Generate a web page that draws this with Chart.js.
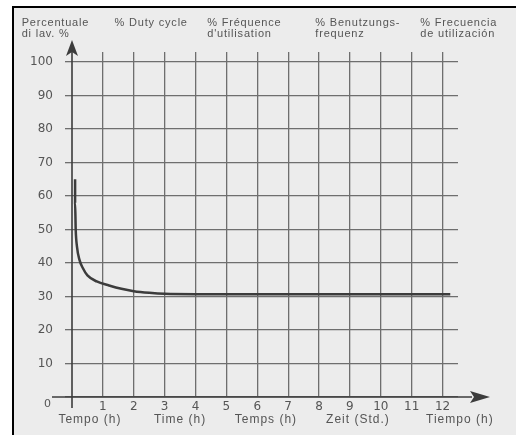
<!DOCTYPE html>
<html>
<head>
<meta charset="utf-8">
<script src="https://cdn.jsdelivr.net/npm/chart.js@4"></script>
<style>
  html, body { margin: 0; padding: 0; background: #fff; }
  #wrap { width: 516px; height: 435px; position: relative; }
</style>
</head>
<body>
<div id="wrap"><canvas id="dutyChart" width="516" height="435"></canvas></div>
<script>
// duty cycle curve (hours, percent)
const hours = [0.1, 0.1, 0.12, 0.16, 0.24, 0.35, 0.5, 0.8, 1.2, 1.6, 2.0, 2.5, 3, 4, 6, 8, 10, 12.25];
const dutyPct = [65, 58, 50, 45, 41, 38.5, 36.3, 34.5, 33.3, 32.3, 31.6, 31.1, 30.8, 30.7, 30.7, 30.7, 30.7, 30.7];

const yTicks = [0, 10, 20, 30, 40, 50, 60, 70, 80, 90, 100];
const xTicks = [1, 2, 3, 4, 5, 6, 7, 8, 9, 10, 11, 12];

// header labels (5 languages) and their x position in hours
const headerLines = [
  ["Percentuale", "di lav. %"],
  ["% Duty cycle"],
  ["% Fréquence", "d'utilisation"],
  ["% Benutzungs-", "frequenz"],
  ["% Frecuencia", "de utilización"]
];
const headerAt = [-1.63, 1.38, 4.38, 7.88, 11.28];

const timeTitles = ["Tempo (h)", "Time (h)", "Temps (h)", "Zeit (Std.)", "Tiempo (h)"];
const timeTitleAt = [0.58, 3.5, 6.28, 9.26, 12.56];

const ink = "#3c3c3c";
const gridCol = "#6e6e6e";
const labelCol = "#555";
const sans = "'Liberation Sans', Arial, sans-serif";
const tickFont = { family: "'DejaVu Sans', sans-serif", size: 12 };

const paperAndArrows = {
  id: "paperAndArrows",
  beforeDraw(chart) {
    const c = chart.ctx;
    c.save();
    c.fillStyle = "#ececec";
    c.fillRect(12, 6, chart.width - 12, chart.height - 6);
    c.strokeStyle = "#000";
    c.lineWidth = 2;
    c.beginPath();
    c.moveTo(13, chart.height);
    c.lineTo(13, 7);
    c.lineTo(chart.width, 7);
    c.stroke();
    c.restore();
  },
  afterDraw(chart) {
    const c = chart.ctx;
    const xs = chart.scales.x, ys = chart.scales.y;
    const x0 = xs.getPixelForValue(0), y0 = ys.getPixelForValue(0);
    c.save();
    c.strokeStyle = ink;
    c.fillStyle = ink;
    c.lineWidth = 1.6;
    // x axis
    c.beginPath();
    c.moveTo(x0 - 20, y0);
    c.lineTo(x0 + 400, y0);
    c.stroke();
    c.beginPath();
    c.moveTo(x0 + 418, y0);
    c.lineTo(x0 + 398, y0 - 6);
    c.lineTo(x0 + 402, y0);
    c.lineTo(x0 + 398, y0 + 6);
    c.closePath();
    c.fill();
    // y axis
    c.beginPath();
    c.moveTo(x0, y0 + 11);
    c.lineTo(x0, 50);
    c.stroke();
    c.beginPath();
    c.moveTo(x0, 40);
    c.lineTo(x0 - 6, 56);
    c.lineTo(x0, 52);
    c.lineTo(x0 + 6, 56);
    c.closePath();
    c.fill();

    c.fillStyle = labelCol;
    c.textBaseline = "middle";
    // origin label
    c.font = "11px 'DejaVu Sans', sans-serif";
    c.textAlign = "right";
    c.fillText("0", x0 - 21, y0 + 7);

    // header texts
    c.font = "11px " + sans;
    c.letterSpacing = "0.8px";
    c.textAlign = "left";
    headerLines.forEach((lines, i) => {
      const hx = xs.getPixelForValue(headerAt[i]);
      lines.forEach((t, j) => c.fillText(t, hx, 23 + j * 10.5));
    });
    // time titles
    c.font = "12px " + sans;
    c.letterSpacing = "1px";
    c.textAlign = "center";
    timeTitles.forEach((t, i) => {
      c.fillText(t, xs.getPixelForValue(timeTitleAt[i]), 420);
    });
    c.restore();
  }
};

new Chart(document.getElementById("dutyChart"), {
  type: "line",
  data: {
    datasets: [{
      data: hours.map((h, i) => ({ x: h, y: dutyPct[i] })),
      borderColor: ink,
      borderWidth: 2.5,
      pointRadius: 0,
      tension: 0.4,
      cubicInterpolationMode: "monotone",
      fill: false
    }]
  },
  options: {
    responsive: false,
    animation: false,
    layout: { padding: { left: 12, top: 52, right: 58, bottom: 0 } },
    plugins: { legend: { display: false }, tooltip: { enabled: false } },
    scales: {
      x: {
        type: "linear",
        min: 0,
        max: 12.5,
        afterFit: s => { s.height = 38; },
        afterBuildTicks: s => { s.ticks = xTicks.map(v => ({ value: v })); },
        border: { display: false },
        grid: { color: gridCol, lineWidth: 1.3, drawTicks: false },
        ticks: { color: labelCol, padding: 3, font: tickFont }
      },
      y: {
        min: 0,
        max: 103,
        afterFit: s => { s.width = 60; },
        afterBuildTicks: s => { s.ticks = yTicks.map(v => ({ value: v })); },
        border: { display: false },
        grid: { color: gridCol, lineWidth: 1.3, tickLength: 7 },
        ticks: {
          color: labelCol,
          padding: 12,
          font: tickFont,
          callback: v => (v === 0 ? "" : v)
        }
      }
    }
  },
  plugins: [paperAndArrows]
});
</script>
</body>
</html>
